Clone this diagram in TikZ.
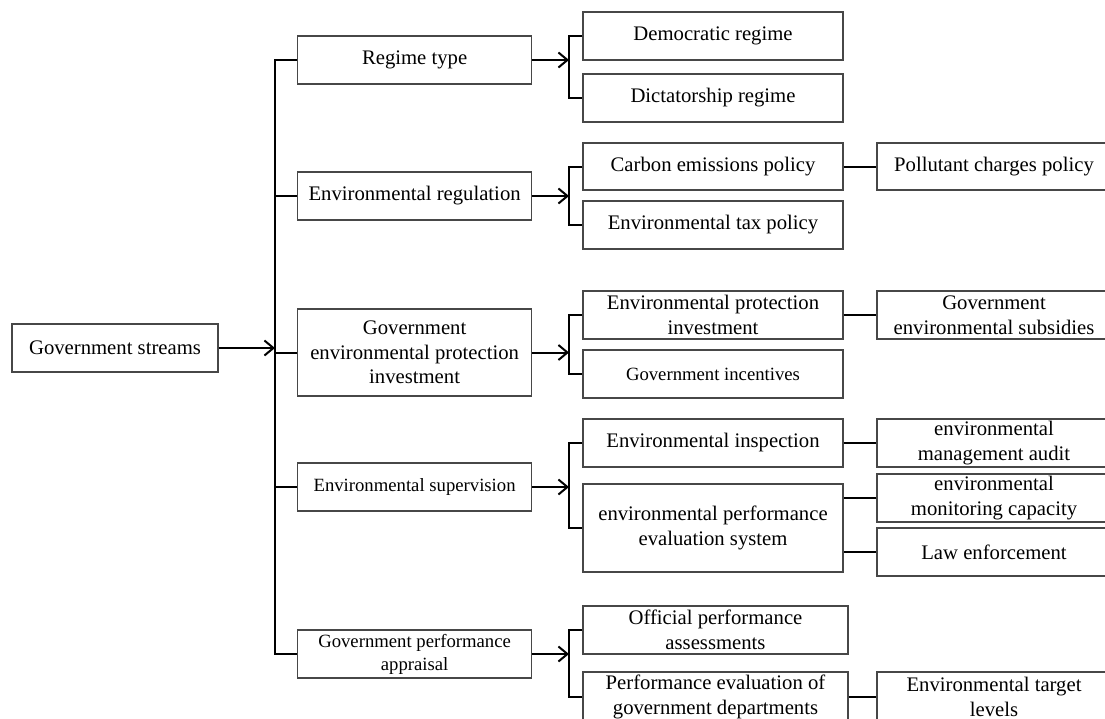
\documentclass[tikz,border=0pt]{standalone}
\usepackage{fontspec}
\setmainfont{Liberation Serif}
\usetikzlibrary{arrows.meta}
\begin{document}
\begin{tikzpicture}[x=1pt,y=-1pt,
  box/.style={draw=black!72, line width=1.2pt, inner sep=0pt, align=center, font=\fontsize{20.7}{24.5}\selectfont},
  smallbox/.style={box, font=\fontsize{18.7}{23}\selectfont},
  conn/.style={line width=2pt, black},
  arr/.style={conn, -{Straight Barb[length=9pt,width=15pt,line width=2pt]}}]
\path[use as bounding box] (0,0) rectangle (1105,718);
\clip (0,0) rectangle (1105,718);
\coordinate (busA) at (275,0);
\coordinate (sbA) at (569,0);
% column 0
\node[box, minimum width=206, minimum height=48] (gs) at (115,348) {Government streams};
% column 1
\node[box, minimum width=234, minimum height=48] (rt) at (414.6,60) {Regime type};
\node[box, minimum width=234, minimum height=48] (er) at (414.6,196) {Environmental regulation};
\node[box, minimum width=234, minimum height=87] (gep) at (414.6,352.5) {Government\\environmental protection\\investment};
\node[smallbox, minimum width=234, minimum height=48] (es) at (414.6,487) {Environmental supervision};
\node[smallbox, minimum width=234, minimum height=48] (gpa) at (414.6,654) {Government performance\\appraisal};
% column 2
\node[box, minimum width=260, minimum height=48] (dem) at (713,36) {Democratic regime};
\node[box, minimum width=260, minimum height=48] (dic) at (713,98) {Dictatorship regime};
\node[box, minimum width=260, minimum height=47] (cep) at (713,166.5) {Carbon emissions policy};
\node[box, minimum width=260, minimum height=48] (etp) at (713,225) {Environmental tax policy};
\node[box, minimum width=260, minimum height=48] (epi) at (713,315) {Environmental protection\\investment};
\node[smallbox, minimum width=260, minimum height=48] (gi) at (713,374) {Government incentives};
\node[box, minimum width=260, minimum height=48] (ei) at (713,443) {Environmental inspection};
\node[box, minimum width=260, minimum height=88] (eps) at (713,528) {environmental performance\\evaluation system};
\node[box, minimum width=265, minimum height=48] (opa) at (715.5,630) {Official performance\\assessments};
\node[box, minimum width=265, minimum height=50] (ped) at (715.5,697) {Performance evaluation of\\government departments};
% column 3
\node[box, minimum width=234, minimum height=47] (pcp) at (994,166.5) {Pollutant charges policy};
\node[box, minimum width=234, minimum height=48] (ges) at (994,315) {Government\\environmental subsidies};
\node[box, minimum width=234, minimum height=48] (ema) at (994,443) {environmental\\management audit};
\node[box, minimum width=234, minimum height=48] (emc) at (994,498) {environmental\\monitoring capacity};
\node[box, minimum width=234, minimum height=48] (le) at (994,552) {Law enforcement};
\node[box, minimum width=234, minimum height=50] (etl) at (994,697) {Environmental target\\levels};
% main bus
\draw[arr] (gs.east) -- (gs.east -| busA);
\draw[conn] (rt.west) -| (rt.west -| busA) |- (gpa.west);
\foreach \n in {er,gep,es} \draw[conn] (\n.west) -- (\n.west -| busA);
% sub buses
\foreach \p/\a/\b in {rt/dem/dic, er/cep/etp, gep/epi/gi, es/ei/eps, gpa/opa/ped} {
  \draw[arr] (\p.east) -- (\p.east -| sbA);
  \draw[conn] (\a.west) -- (\a.west -| sbA) |- (\b.west);
}
% column 2 to column 3
\draw[conn] (cep.east) -- (pcp.west);
\draw[conn] (epi.east) -- (ges.west);
\draw[conn] (ei.east) -- (ema.west);
\draw[conn] (emc.west) -- (emc.west -| eps.east);
\draw[conn] (le.west) -- (le.west -| eps.east);
\draw[conn] (ped.east) -- (etl.west);
\end{tikzpicture}
\end{document}
